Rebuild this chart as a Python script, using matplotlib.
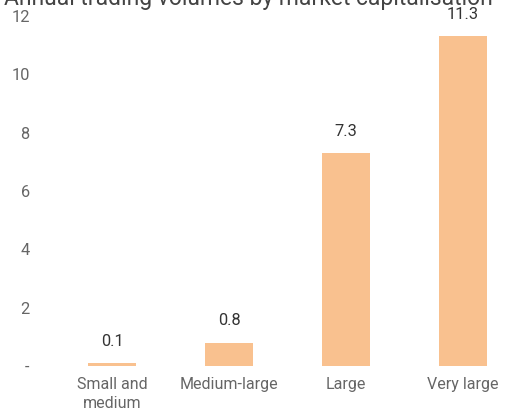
"""Annual trading volumes by market capitalisation - bar chart."""

import matplotlib

matplotlib.use("Agg")
import matplotlib.pyplot as plt

categories = ["Small and\nmedium", "Medium-large", "Large", "Very large"]
volumes = [0.1, 0.8, 7.3, 11.3]
yticks = [0, 2, 4, 6, 8, 10, 12]
ytick_labels = ["-", "2", "4", "6", "8", "10", "12"]
title = "Annual trading volumes by market capitalisation"

BAR_COLOR = "#F9C18F"
TICK_COLOR = "#666666"
VALUE_COLOR = "#333333"

plt.rcParams["font.family"] = ["Roboto", "DejaVu Sans"]

fig = plt.figure(figsize=(5.07, 4.12), dpi=100)
ax = fig.add_axes([45 / 507, 46 / 412, 462 / 507, 350 / 412])

x = range(len(categories))
ax.bar(x, volumes, width=0.41, color=BAR_COLOR)
for xi, v in zip(x, volumes):
    ax.text(xi, v + 0.5, f"{v:.1f}", ha="center", va="bottom",
            fontsize=11.8, color=VALUE_COLOR)

ax.set_xlim(-0.573, 3.376)
ax.set_ylim(0, 12)
ax.set_xticks(list(x))
ax.set_xticklabels(categories, fontsize=11.5, color=TICK_COLOR,
                   linespacing=1.3)
ax.set_yticks(yticks)
ax.set_yticklabels(ytick_labels, fontsize=11.8, color=TICK_COLOR)
ax.tick_params(length=0, pad=11, axis="y")
ax.tick_params(length=0, pad=8, axis="x")
for spine in ax.spines.values():
    spine.set_visible(False)

fig.text(0.49, (412 - 5) / 412, title, ha="center", va="baseline",
         fontsize=16.5, color="#444444")

fig.savefig("out.png", dpi=100)
